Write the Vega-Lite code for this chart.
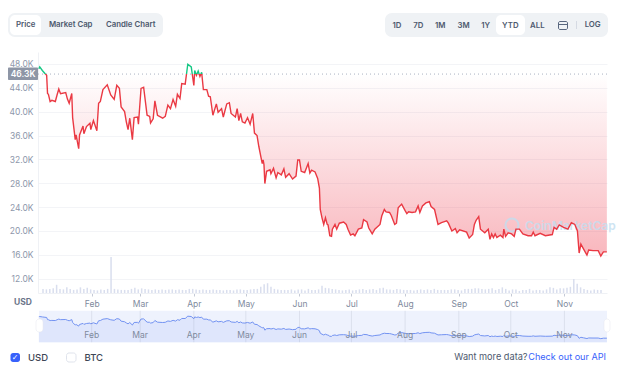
{"$schema":"https://vega.github.io/schema/vega-lite/v6.json","width":569,"height":241,"padding":{"left":38,"top":52,"right":17,"bottom":87},"autosize":{"type":"none"},"background":"white","config":{"font":"Inter","view":{"stroke":null},"text":{"baseline":"middle"}},
"data":{"values":[{"ui":1}]},
"datasets":{"p":[{"d":"2022-01-01T12:00Z","p":47200},{"d":"2022-01-02","p":47500},{"d":"2022-01-03T12:00Z","p":46900},{"d":"2022-01-05","p":46400},{"d":"2022-01-06","p":46100},{"d":"2022-01-06T12:00Z","p":43050},{"d":"2022-01-07","p":42900},{"d":"2022-01-08","p":41700},{"d":"2022-01-09","p":41900},{"d":"2022-01-11","p":41700},{"d":"2022-01-12","p":42800},{"d":"2022-01-13","p":43800},{"d":"2022-01-14","p":43000},{"d":"2022-01-17","p":43200},{"d":"2022-01-18","p":42100},{"d":"2022-01-19","p":41400},{"d":"2022-01-20T12:00Z","p":43050},{"d":"2022-01-21","p":39000},{"d":"2022-01-22T12:00Z","p":35300},{"d":"2022-01-23","p":36100},{"d":"2022-01-24T12:00Z","p":33800},{"d":"2022-01-25","p":36100},{"d":"2022-01-27","p":37600},{"d":"2022-01-27T12:00Z","p":36300},{"d":"2022-01-29","p":37500},{"d":"2022-01-31","p":38050},{"d":"2022-01-31T12:00Z","p":37000},{"d":"2022-02-02","p":38500},{"d":"2022-02-04","p":36800},{"d":"2022-02-05","p":41400},{"d":"2022-02-06","p":41700},{"d":"2022-02-07T12:00Z","p":43700},{"d":"2022-02-10","p":44500},{"d":"2022-02-12","p":42800},{"d":"2022-02-14","p":42050},{"d":"2022-02-15T12:00Z","p":44400},{"d":"2022-02-17","p":43900},{"d":"2022-02-18","p":40800},{"d":"2022-02-20","p":40000},{"d":"2022-02-21","p":38300},{"d":"2022-02-22","p":37000},{"d":"2022-02-23","p":38900},{"d":"2022-02-24T12:00Z","p":35300},{"d":"2022-02-25T12:00Z","p":39000},{"d":"2022-02-27T12:00Z","p":39100},{"d":"2022-02-28","p":37900},{"d":"2022-03-01T12:00Z","p":43900},{"d":"2022-03-03","p":44100},{"d":"2022-03-05","p":39400},{"d":"2022-03-06T12:00Z","p":39200},{"d":"2022-03-07","p":38100},{"d":"2022-03-08T12:00Z","p":38800},{"d":"2022-03-09T12:00Z","p":41800},{"d":"2022-03-11","p":39400},{"d":"2022-03-14","p":38900},{"d":"2022-03-15T12:00Z","p":39200},{"d":"2022-03-17","p":41100},{"d":"2022-03-18T12:00Z","p":40500},{"d":"2022-03-20","p":42050},{"d":"2022-03-21T12:00Z","p":40900},{"d":"2022-03-22T12:00Z","p":42900},{"d":"2022-03-24","p":42200},{"d":"2022-03-25","p":44700},{"d":"2022-03-27","p":44600},{"d":"2022-03-28T12:00Z","p":47950},{"d":"2022-03-30T12:00Z","p":47500},{"d":"2022-04-01","p":44400},{"d":"2022-04-01T12:00Z","p":46900},{"d":"2022-04-02T12:00Z","p":46100},{"d":"2022-04-03T12:00Z","p":46800},{"d":"2022-04-04T12:00Z","p":45900},{"d":"2022-04-05T12:00Z","p":46600},{"d":"2022-04-06T12:00Z","p":43700},{"d":"2022-04-08T12:00Z","p":43700},{"d":"2022-04-09T12:00Z","p":42600},{"d":"2022-04-10T12:00Z","p":42500},{"d":"2022-04-12","p":39400},{"d":"2022-04-14","p":41300},{"d":"2022-04-15","p":39900},{"d":"2022-04-17","p":40500},{"d":"2022-04-18","p":39100},{"d":"2022-04-20","p":41300},{"d":"2022-04-21T12:00Z","p":41500},{"d":"2022-04-22T12:00Z","p":39700},{"d":"2022-04-25","p":39100},{"d":"2022-04-26","p":40500},{"d":"2022-04-27","p":38500},{"d":"2022-04-28","p":39700},{"d":"2022-04-29","p":38300},{"d":"2022-04-30T12:00Z","p":38100},{"d":"2022-05-02","p":39000},{"d":"2022-05-03T12:00Z","p":37900},{"d":"2022-05-05","p":39700},{"d":"2022-05-06","p":36400},{"d":"2022-05-07T12:00Z","p":36000},{"d":"2022-05-08T12:00Z","p":34200},{"d":"2022-05-10","p":32000},{"d":"2022-05-10T12:00Z","p":31300},{"d":"2022-05-11","p":31900},{"d":"2022-05-11T12:00Z","p":31100},{"d":"2022-05-12","p":27950},{"d":"2022-05-13","p":30000},{"d":"2022-05-15","p":30250},{"d":"2022-05-15T12:00Z","p":29600},{"d":"2022-05-17","p":30500},{"d":"2022-05-18T12:00Z","p":28900},{"d":"2022-05-19T12:00Z","p":29800},{"d":"2022-05-21T12:00Z","p":29400},{"d":"2022-05-23","p":30400},{"d":"2022-05-24","p":29000},{"d":"2022-05-26","p":29600},{"d":"2022-05-28","p":28700},{"d":"2022-05-30","p":29200},{"d":"2022-05-31","p":31900},{"d":"2022-06-01","p":31900},{"d":"2022-06-02","p":30000},{"d":"2022-06-04","p":29800},{"d":"2022-06-06","p":31300},{"d":"2022-06-07","p":29700},{"d":"2022-06-08","p":30200},{"d":"2022-06-10","p":29900},{"d":"2022-06-11T12:00Z","p":28800},{"d":"2022-06-12T12:00Z","p":27200},{"d":"2022-06-13","p":23600},{"d":"2022-06-14","p":22200},{"d":"2022-06-15","p":21100},{"d":"2022-06-16","p":22200},{"d":"2022-06-17","p":21100},{"d":"2022-06-17T12:00Z","p":21000},{"d":"2022-06-18T12:00Z","p":19200},{"d":"2022-06-19T12:00Z","p":19100},{"d":"2022-06-20","p":20300},{"d":"2022-06-21T12:00Z","p":21100},{"d":"2022-06-22T12:00Z","p":20300},{"d":"2022-06-24","p":21300},{"d":"2022-06-26T12:00Z","p":21500},{"d":"2022-06-28","p":21100},{"d":"2022-06-29","p":20300},{"d":"2022-06-30T12:00Z","p":19300},{"d":"2022-07-02","p":19500},{"d":"2022-07-03","p":19200},{"d":"2022-07-05","p":20300},{"d":"2022-07-07","p":20500},{"d":"2022-07-08","p":21900},{"d":"2022-07-10","p":21500},{"d":"2022-07-11","p":20500},{"d":"2022-07-13","p":19500},{"d":"2022-07-14T12:00Z","p":20300},{"d":"2022-07-17T12:00Z","p":21100},{"d":"2022-07-18T12:00Z","p":22500},{"d":"2022-07-20","p":23600},{"d":"2022-07-21","p":23200},{"d":"2022-07-23","p":23100},{"d":"2022-07-24","p":22600},{"d":"2022-07-26","p":21100},{"d":"2022-07-27","p":21300},{"d":"2022-07-28","p":23900},{"d":"2022-07-30","p":24500},{"d":"2022-08-01","p":23400},{"d":"2022-08-02","p":22900},{"d":"2022-08-03","p":23200},{"d":"2022-08-05","p":23100},{"d":"2022-08-07","p":23200},{"d":"2022-08-08T12:00Z","p":24200},{"d":"2022-08-09T12:00Z","p":23100},{"d":"2022-08-11","p":24200},{"d":"2022-08-13","p":24700},{"d":"2022-08-15","p":24900},{"d":"2022-08-16","p":24100},{"d":"2022-08-18","p":23600},{"d":"2022-08-20","p":21100},{"d":"2022-08-22","p":21400},{"d":"2022-08-25","p":21700},{"d":"2022-08-26","p":21300},{"d":"2022-08-28","p":20000},{"d":"2022-08-30","p":20400},{"d":"2022-08-31","p":19700},{"d":"2022-09-01T12:00Z","p":20200},{"d":"2022-09-05T12:00Z","p":19800},{"d":"2022-09-07","p":18800},{"d":"2022-09-09","p":19400},{"d":"2022-09-10","p":21100},{"d":"2022-09-11","p":21800},{"d":"2022-09-12T12:00Z","p":22400},{"d":"2022-09-13T12:00Z","p":20300},{"d":"2022-09-16","p":19700},{"d":"2022-09-18","p":20300},{"d":"2022-09-19","p":18600},{"d":"2022-09-20","p":19500},{"d":"2022-09-21","p":18900},{"d":"2022-09-22","p":19500},{"d":"2022-09-23","p":18900},{"d":"2022-09-25","p":19300},{"d":"2022-09-26T12:00Z","p":18900},{"d":"2022-09-27","p":20300},{"d":"2022-09-28","p":19100},{"d":"2022-09-29T12:00Z","p":19700},{"d":"2022-10-01T12:00Z","p":19500},{"d":"2022-10-03","p":19100},{"d":"2022-10-04","p":20300},{"d":"2022-10-06","p":20300},{"d":"2022-10-08","p":19500},{"d":"2022-10-11","p":19200},{"d":"2022-10-13","p":19200},{"d":"2022-10-14","p":19800},{"d":"2022-10-15","p":19200},{"d":"2022-10-18","p":19600},{"d":"2022-10-21","p":19200},{"d":"2022-10-25","p":19400},{"d":"2022-10-26","p":20600},{"d":"2022-10-27T12:00Z","p":20300},{"d":"2022-10-29","p":21000},{"d":"2022-10-31T12:00Z","p":20600},{"d":"2022-11-03","p":20300},{"d":"2022-11-05","p":21400},{"d":"2022-11-07","p":21100},{"d":"2022-11-08T12:00Z","p":20000},{"d":"2022-11-09T12:00Z","p":16300},{"d":"2022-11-10T12:00Z","p":17800},{"d":"2022-11-12","p":17000},{"d":"2022-11-14","p":15950},{"d":"2022-11-15","p":16800},{"d":"2022-11-17T12:00Z","p":16700},{"d":"2022-11-20T12:00Z","p":16700},{"d":"2022-11-22","p":15800},{"d":"2022-11-23T12:00Z","p":16500},{"d":"2022-11-25T12:00Z","p":16500}],
"v":[{"d":"2022-01-01","v":40},{"d":"2022-01-03","v":35},{"d":"2022-01-05","v":40},{"d":"2022-01-07","v":45},{"d":"2022-01-09","v":80},{"d":"2022-01-11","v":40},{"d":"2022-01-13","v":35},{"d":"2022-01-15","v":55},{"d":"2022-01-17","v":40},{"d":"2022-01-19","v":30},{"d":"2022-01-21","v":35},{"d":"2022-01-23","v":55},{"d":"2022-01-25","v":40},{"d":"2022-01-27","v":50},{"d":"2022-01-29","v":35},{"d":"2022-01-31","v":30},{"d":"2022-02-02","v":25},{"d":"2022-02-04","v":35},{"d":"2022-02-06","v":30},{"d":"2022-02-08","v":40},{"d":"2022-02-10","v":350},{"d":"2022-02-12","v":40},{"d":"2022-02-14","v":35},{"d":"2022-02-16","v":30},{"d":"2022-02-18","v":30},{"d":"2022-02-20","v":30},{"d":"2022-02-22","v":40},{"d":"2022-02-24","v":50},{"d":"2022-02-26","v":35},{"d":"2022-02-28","v":45},{"d":"2022-03-02","v":40},{"d":"2022-03-04","v":35},{"d":"2022-03-06","v":30},{"d":"2022-03-08","v":35},{"d":"2022-03-10","v":30},{"d":"2022-03-12","v":35},{"d":"2022-03-14","v":30},{"d":"2022-03-16","v":35},{"d":"2022-03-18","v":35},{"d":"2022-03-20","v":30},{"d":"2022-03-22","v":35},{"d":"2022-03-24","v":30},{"d":"2022-03-26","v":30},{"d":"2022-03-28","v":40},{"d":"2022-03-30","v":40},{"d":"2022-04-01","v":35},{"d":"2022-04-03","v":30},{"d":"2022-04-05","v":35},{"d":"2022-04-07","v":30},{"d":"2022-04-09","v":30},{"d":"2022-04-11","v":35},{"d":"2022-04-13","v":30},{"d":"2022-04-15","v":30},{"d":"2022-04-17","v":25},{"d":"2022-04-19","v":30},{"d":"2022-04-21","v":30},{"d":"2022-04-23","v":25},{"d":"2022-04-25","v":35},{"d":"2022-04-27","v":35},{"d":"2022-04-29","v":30},{"d":"2022-05-01","v":30},{"d":"2022-05-03","v":35},{"d":"2022-05-05","v":40},{"d":"2022-05-07","v":40},{"d":"2022-05-09","v":60},{"d":"2022-05-11","v":85},{"d":"2022-05-13","v":95},{"d":"2022-05-15","v":60},{"d":"2022-05-17","v":40},{"d":"2022-05-19","v":35},{"d":"2022-05-21","v":30},{"d":"2022-05-23","v":30},{"d":"2022-05-25","v":30},{"d":"2022-05-27","v":35},{"d":"2022-05-29","v":25},{"d":"2022-05-31","v":35},{"d":"2022-06-02","v":35},{"d":"2022-06-04","v":25},{"d":"2022-06-06","v":40},{"d":"2022-06-08","v":30},{"d":"2022-06-10","v":30},{"d":"2022-06-12","v":35},{"d":"2022-06-14","v":70},{"d":"2022-06-16","v":50},{"d":"2022-06-18","v":45},{"d":"2022-06-20","v":40},{"d":"2022-06-22","v":35},{"d":"2022-06-24","v":30},{"d":"2022-06-26","v":25},{"d":"2022-06-28","v":30},{"d":"2022-06-30","v":35},{"d":"2022-07-02","v":25},{"d":"2022-07-04","v":30},{"d":"2022-07-06","v":35},{"d":"2022-07-08","v":40},{"d":"2022-07-10","v":30},{"d":"2022-07-12","v":35},{"d":"2022-07-14","v":40},{"d":"2022-07-16","v":30},{"d":"2022-07-18","v":45},{"d":"2022-07-20","v":50},{"d":"2022-07-22","v":35},{"d":"2022-07-24","v":35},{"d":"2022-07-26","v":30},{"d":"2022-07-28","v":40},{"d":"2022-07-30","v":35},{"d":"2022-08-01","v":30},{"d":"2022-08-03","v":30},{"d":"2022-08-05","v":30},{"d":"2022-08-07","v":25},{"d":"2022-08-09","v":30},{"d":"2022-08-11","v":35},{"d":"2022-08-13","v":30},{"d":"2022-08-15","v":35},{"d":"2022-08-17","v":30},{"d":"2022-08-19","v":40},{"d":"2022-08-21","v":30},{"d":"2022-08-23","v":30},{"d":"2022-08-25","v":30},{"d":"2022-08-27","v":30},{"d":"2022-08-29","v":35},{"d":"2022-08-31","v":35},{"d":"2022-09-02","v":30},{"d":"2022-09-04","v":25},{"d":"2022-09-06","v":40},{"d":"2022-09-08","v":40},{"d":"2022-09-10","v":40},{"d":"2022-09-12","v":45},{"d":"2022-09-14","v":45},{"d":"2022-09-16","v":40},{"d":"2022-09-18","v":35},{"d":"2022-09-20","v":40},{"d":"2022-09-22","v":45},{"d":"2022-09-24","v":30},{"d":"2022-09-26","v":40},{"d":"2022-09-28","v":55},{"d":"2022-09-30","v":40},{"d":"2022-10-02","v":25},{"d":"2022-10-04","v":35},{"d":"2022-10-06","v":35},{"d":"2022-10-08","v":20},{"d":"2022-10-10","v":30},{"d":"2022-10-12","v":30},{"d":"2022-10-14","v":40},{"d":"2022-10-16","v":25},{"d":"2022-10-18","v":30},{"d":"2022-10-20","v":30},{"d":"2022-10-22","v":25},{"d":"2022-10-24","v":35},{"d":"2022-10-26","v":55},{"d":"2022-10-28","v":50},{"d":"2022-10-30","v":35},{"d":"2022-11-01","v":45},{"d":"2022-11-03","v":45},{"d":"2022-11-05","v":50},{"d":"2022-11-07","v":60},{"d":"2022-11-09","v":135},{"d":"2022-11-11","v":90},{"d":"2022-11-13","v":55},{"d":"2022-11-15","v":40},{"d":"2022-11-17","v":30},{"d":"2022-11-19","v":25},{"d":"2022-11-21","v":35},{"d":"2022-11-23","v":30},{"d":"2022-11-25","v":30}],
"m":[{"d":"2022-02-01","l":"Feb"},{"d":"2022-03-01","l":"Mar"},{"d":"2022-04-01","l":"Apr"},{"d":"2022-05-01","l":"May"},{"d":"2022-06-01","l":"Jun"},{"d":"2022-07-01","l":"Jul"},{"d":"2022-08-01","l":"Aug"},{"d":"2022-09-01","l":"Sep"},{"d":"2022-10-01","l":"Oct"},{"d":"2022-11-01","l":"Nov"}]},
"resolve":{"scale":{"x":"independent","y":"independent"},"axis":{"x":"independent","y":"independent"}},
"layer":[
{"data":{"name":"p"},"mark":{"type":"rule","opacity":0},"encoding":{"y":{"field":"p","type":"quantitative","scale":{"domain":[9600,50000],"range":[241,0]},"axis":{"values":[12000,16000,20000,24000,28000,32000,36000,40000,44000,48000],"labelExpr":"format(datum.value/1000,'.1f')+'K'","title":null,"grid":true,"gridColor":"#f3f4f7","ticks":false,"domainColor":"#eff1f5","labelColor":"#8e97ab","labelFontSize":8.5,"labelPadding":5}}}},
{"data":{"name":"p"},"mark":{"type":"area","fill":{"gradient":"linear","x1":0,"y1":0,"x2":0,"y2":1,"stops":[{"offset":0,"color":"rgba(239,74,91,0)"},{"offset":0.051,"color":"rgba(239,74,91,0)"},{"offset":1,"color":"rgba(239,74,91,0.4)"}]}},"encoding":{"x":{"field":"d","type":"temporal","axis":null,"scale":{"type":"utc","domain":["2022-01-01","2022-11-25T14:00:00Z"],"range":[0,569]}},"y":{"field":"p","type":"quantitative","axis":null,"scale":{"domain":[9600,50000],"range":[241,0]}},"y2":{"datum":46300}}},
{"mark":{"type":"rule","color":"#aab2c2","strokeDash":[1,3],"strokeWidth":1},"encoding":{"y":{"datum":46300,"type":"quantitative","axis":null,"scale":{"domain":[9600,50000],"range":[241,0]}}}},
{"mark":{"type":"point","filled":false,"stroke":"#c3def0","strokeWidth":2,"opacity":0.8,"size":170},"encoding":{"x":{"datum":512,"type":"quantitative","axis":null,"scale":{"domain":[0,624],"range":[-38,586]}},"y":{"datum":225,"type":"quantitative","axis":null,"scale":{"domain":[0,380],"range":[-52,328]}}}},
{"mark":{"type":"text","align":"left","fontSize":12,"fontWeight":600,"color":"#c3def0","opacity":0.8},"encoding":{"x":{"datum":525,"type":"quantitative","axis":null,"scale":{"domain":[0,624],"range":[-38,586]}},"y":{"datum":226,"type":"quantitative","axis":null,"scale":{"domain":[0,380],"range":[-52,328]}},"text":{"value":"CoinMarketCap"}}},
{"data":{"name":"v"},"mark":{"type":"bar","size":1.5,"color":"#d9deee"},"encoding":{"x":{"field":"d","type":"temporal","axis":null,"scale":{"type":"utc","domain":["2022-01-01","2022-11-25T14:00:00Z"],"range":[0,569]}},"y":{"field":"v","type":"quantitative","axis":null,"scale":{"domain":[0,350],"range":[241,205]}}}},
{"data":{"name":"p"},"mark":{"type":"line","strokeWidth":1.4,"stroke":{"gradient":"linear","x1":0,"y1":0,"x2":0,"y2":1,"stops":[{"offset":0,"color":"#16c784"},{"offset":0.051,"color":"#16c784"},{"offset":0.051,"color":"#ea3943"},{"offset":1,"color":"#ea3943"}]}},"encoding":{"x":{"field":"d","type":"temporal","scale":{"type":"utc","domain":["2022-01-01","2022-11-25T14:00:00Z"],"range":[0,569]},"axis":{"values":[{"year":2022,"month":2,"date":1,"utc":true},{"year":2022,"month":3,"date":1,"utc":true},{"year":2022,"month":4,"date":1,"utc":true},{"year":2022,"month":5,"date":1,"utc":true},{"year":2022,"month":6,"date":1,"utc":true},{"year":2022,"month":7,"date":1,"utc":true},{"year":2022,"month":8,"date":1,"utc":true},{"year":2022,"month":9,"date":1,"utc":true},{"year":2022,"month":10,"date":1,"utc":true},{"year":2022,"month":11,"date":1,"utc":true}],"format":"%b","title":null,"grid":false,"tickSize":3,"tickColor":"#c5cad6","domainColor":"#eff1f5","labelColor":"#808a9d","labelFontSize":8.5,"labelPadding":3}},"y":{"field":"p","type":"quantitative","axis":null,"scale":{"domain":[9600,50000],"range":[241,0]}}}},
{"mark":{"type":"rect","color":"#eef2fd"},"encoding":{"x":{"datum":39,"type":"quantitative","axis":null,"scale":{"domain":[0,624],"range":[-38,586]}},"x2":{"datum":607},"y":{"datum":310.7,"type":"quantitative","axis":null,"scale":{"domain":[0,380],"range":[-52,328]}},"y2":{"datum":342.3}}},
{"data":{"name":"p"},"mark":{"type":"area","color":"#d9e1fb","line":{"color":"#7393f2","strokeWidth":1}},"encoding":{"x":{"field":"d","type":"temporal","axis":null,"scale":{"type":"utc","domain":["2022-01-01","2022-11-25T14:00:00Z"],"range":[0,569]}},"y":{"field":"p","type":"quantitative","axis":null,"scale":{"domain":[10600,55800],"range":[290.3,258.7]}},"y2":{"datum":10600}}},
{"data":{"name":"m"},"mark":{"type":"rule","color":"#58667e","opacity":0.12},"encoding":{"x":{"field":"d","type":"temporal","axis":null,"scale":{"type":"utc","domain":["2022-01-01","2022-11-25T14:00:00Z"],"range":[0,569]}},"y":{"datum":10600,"type":"quantitative","axis":null,"scale":{"domain":[10600,55800],"range":[290.3,258.7]}},"y2":{"datum":55800}}},
{"data":{"name":"m"},"mark":{"type":"text","color":"#808a9d","fontSize":8.5},"encoding":{"x":{"field":"d","type":"temporal","axis":null,"scale":{"type":"utc","domain":["2022-01-01","2022-11-25T14:00:00Z"],"range":[0,569]}},"y":{"datum":21000,"type":"quantitative","axis":null,"scale":{"domain":[10600,55800],"range":[290.3,258.7]}},"text":{"field":"l"}}},
{"mark":{"type":"rect","color":"white","stroke":"#e4e7ee","strokeWidth":0.5,"cornerRadius":3},"encoding":{"x":{"datum":36,"type":"quantitative","axis":null,"scale":{"domain":[0,624],"range":[-38,586]}},"x2":{"datum":43},"y":{"datum":319,"type":"quantitative","axis":null,"scale":{"domain":[0,380],"range":[-52,328]}},"y2":{"datum":332}}},
{"mark":{"type":"rect","color":"white","stroke":"#e4e7ee","strokeWidth":0.5,"cornerRadius":3},"encoding":{"x":{"datum":604,"type":"quantitative","axis":null,"scale":{"domain":[0,624],"range":[-38,586]}},"x2":{"datum":610},"y":{"datum":319,"type":"quantitative","axis":null,"scale":{"domain":[0,380],"range":[-52,328]}},"y2":{"datum":332}}},
{"mark":{"type":"rect","color":"#8e96a6","cornerRadius":1},"encoding":{"x":{"datum":8,"type":"quantitative","axis":null,"scale":{"domain":[0,624],"range":[-38,586]}},"x2":{"datum":38},"y":{"datum":67.5,"type":"quantitative","axis":null,"scale":{"domain":[0,380],"range":[-52,328]}},"y2":{"datum":80}}},
{"mark":{"type":"text","color":"white","fontSize":8.5,"fontWeight":600},"encoding":{"x":{"datum":23,"type":"quantitative","axis":null,"scale":{"domain":[0,624],"range":[-38,586]}},"y":{"datum":74,"type":"quantitative","axis":null,"scale":{"domain":[0,380],"range":[-52,328]}},"text":{"value":"46.3K"}}},
{"mark":{"type":"text","color":"#6b7589","fontSize":8.5,"fontWeight":700},"encoding":{"x":{"datum":23,"type":"quantitative","axis":null,"scale":{"domain":[0,624],"range":[-38,586]}},"y":{"datum":302,"type":"quantitative","axis":null,"scale":{"domain":[0,380],"range":[-52,328]}},"text":{"value":"USD"}}},
{"mark":{"type":"rect","color":"#eff2f5","cornerRadius":7},"encoding":{"x":{"datum":8,"type":"quantitative","axis":null,"scale":{"domain":[0,624],"range":[-38,586]}},"x2":{"datum":163},"y":{"datum":13,"type":"quantitative","axis":null,"scale":{"domain":[0,380],"range":[-52,328]}},"y2":{"datum":37}}},
{"mark":{"type":"rect","color":"white","cornerRadius":5},"encoding":{"x":{"datum":10,"type":"quantitative","axis":null,"scale":{"domain":[0,624],"range":[-38,586]}},"x2":{"datum":41},"y":{"datum":15,"type":"quantitative","axis":null,"scale":{"domain":[0,380],"range":[-52,328]}},"y2":{"datum":35}}},
{"mark":{"type":"rect","color":"#eff2f5","cornerRadius":7},"encoding":{"x":{"datum":385,"type":"quantitative","axis":null,"scale":{"domain":[0,624],"range":[-38,586]}},"x2":{"datum":608},"y":{"datum":13,"type":"quantitative","axis":null,"scale":{"domain":[0,380],"range":[-52,328]}},"y2":{"datum":37}}},
{"mark":{"type":"rect","color":"white","cornerRadius":5},"encoding":{"x":{"datum":496,"type":"quantitative","axis":null,"scale":{"domain":[0,624],"range":[-38,586]}},"x2":{"datum":525},"y":{"datum":15,"type":"quantitative","axis":null,"scale":{"domain":[0,380],"range":[-52,328]}},"y2":{"datum":35}}},
{"mark":{"type":"rect","fillOpacity":0,"stroke":"#58667e","strokeWidth":1,"cornerRadius":1.5},"encoding":{"x":{"datum":558.5,"type":"quantitative","axis":null,"scale":{"domain":[0,624],"range":[-38,586]}},"x2":{"datum":567.5},"y":{"datum":21.5,"type":"quantitative","axis":null,"scale":{"domain":[0,380],"range":[-52,328]}},"y2":{"datum":29.5}}},
{"mark":{"type":"rule","color":"#58667e","strokeWidth":1},"encoding":{"x":{"datum":558.5,"type":"quantitative","axis":null,"scale":{"domain":[0,624],"range":[-38,586]}},"x2":{"datum":567.5},"y":{"datum":24.5,"type":"quantitative","axis":null,"scale":{"domain":[0,380],"range":[-52,328]}}}},
{"mark":{"type":"rule","color":"#d5dae3","strokeWidth":1},"encoding":{"x":{"datum":576.5,"type":"quantitative","axis":null,"scale":{"domain":[0,624],"range":[-38,586]}},"y":{"datum":21,"type":"quantitative","axis":null,"scale":{"domain":[0,380],"range":[-52,328]}},"y2":{"datum":29}}},
{"mark":{"type":"text","color":"#4d596e","fontSize":7.8,"fontWeight":600},"encoding":{"x":{"datum":25.7,"type":"quantitative","axis":null,"scale":{"domain":[0,624],"range":[-38,586]}},"y":{"datum":25,"type":"quantitative","axis":null,"scale":{"domain":[0,380],"range":[-52,328]}},"text":{"value":"Price"}}},
{"mark":{"type":"text","color":"#4d596e","fontSize":7.8,"fontWeight":600},"encoding":{"x":{"datum":70.7,"type":"quantitative","axis":null,"scale":{"domain":[0,624],"range":[-38,586]}},"y":{"datum":25,"type":"quantitative","axis":null,"scale":{"domain":[0,380],"range":[-52,328]}},"text":{"value":"Market Cap"}}},
{"mark":{"type":"text","color":"#4d596e","fontSize":7.8,"fontWeight":600},"encoding":{"x":{"datum":130.7,"type":"quantitative","axis":null,"scale":{"domain":[0,624],"range":[-38,586]}},"y":{"datum":25,"type":"quantitative","axis":null,"scale":{"domain":[0,380],"range":[-52,328]}},"text":{"value":"Candle Chart"}}},
{"mark":{"type":"text","color":"#4d596e","fontSize":7.8,"fontWeight":600},"encoding":{"x":{"datum":397,"type":"quantitative","axis":null,"scale":{"domain":[0,624],"range":[-38,586]}},"y":{"datum":25.5,"type":"quantitative","axis":null,"scale":{"domain":[0,380],"range":[-52,328]}},"text":{"value":"1D"}}},
{"mark":{"type":"text","color":"#4d596e","fontSize":7.8,"fontWeight":600},"encoding":{"x":{"datum":418.3,"type":"quantitative","axis":null,"scale":{"domain":[0,624],"range":[-38,586]}},"y":{"datum":25.5,"type":"quantitative","axis":null,"scale":{"domain":[0,380],"range":[-52,328]}},"text":{"value":"7D"}}},
{"mark":{"type":"text","color":"#4d596e","fontSize":7.8,"fontWeight":600},"encoding":{"x":{"datum":440.3,"type":"quantitative","axis":null,"scale":{"domain":[0,624],"range":[-38,586]}},"y":{"datum":25.5,"type":"quantitative","axis":null,"scale":{"domain":[0,380],"range":[-52,328]}},"text":{"value":"1M"}}},
{"mark":{"type":"text","color":"#4d596e","fontSize":7.8,"fontWeight":600},"encoding":{"x":{"datum":463.7,"type":"quantitative","axis":null,"scale":{"domain":[0,624],"range":[-38,586]}},"y":{"datum":25.5,"type":"quantitative","axis":null,"scale":{"domain":[0,380],"range":[-52,328]}},"text":{"value":"3M"}}},
{"mark":{"type":"text","color":"#4d596e","fontSize":7.8,"fontWeight":600},"encoding":{"x":{"datum":485.7,"type":"quantitative","axis":null,"scale":{"domain":[0,624],"range":[-38,586]}},"y":{"datum":25.5,"type":"quantitative","axis":null,"scale":{"domain":[0,380],"range":[-52,328]}},"text":{"value":"1Y"}}},
{"mark":{"type":"text","color":"#4d596e","fontSize":7.8,"fontWeight":600},"encoding":{"x":{"datum":510.3,"type":"quantitative","axis":null,"scale":{"domain":[0,624],"range":[-38,586]}},"y":{"datum":25.5,"type":"quantitative","axis":null,"scale":{"domain":[0,380],"range":[-52,328]}},"text":{"value":"YTD"}}},
{"mark":{"type":"text","color":"#4d596e","fontSize":7.8,"fontWeight":600},"encoding":{"x":{"datum":537.3,"type":"quantitative","axis":null,"scale":{"domain":[0,624],"range":[-38,586]}},"y":{"datum":25.5,"type":"quantitative","axis":null,"scale":{"domain":[0,380],"range":[-52,328]}},"text":{"value":"ALL"}}},
{"mark":{"type":"text","color":"#4d596e","fontSize":7.8,"fontWeight":600},"encoding":{"x":{"datum":592.7,"type":"quantitative","axis":null,"scale":{"domain":[0,624],"range":[-38,586]}},"y":{"datum":25,"type":"quantitative","axis":null,"scale":{"domain":[0,380],"range":[-52,328]}},"text":{"value":"LOG"}}},
{"mark":{"type":"rect","color":"#3861fb","cornerRadius":2.5},"encoding":{"x":{"datum":10.5,"type":"quantitative","axis":null,"scale":{"domain":[0,624],"range":[-38,586]}},"x2":{"datum":20},"y":{"datum":353,"type":"quantitative","axis":null,"scale":{"domain":[0,380],"range":[-52,328]}},"y2":{"datum":362}}},
{"mark":{"type":"text","color":"white","fontSize":8,"font":"DejaVu Sans"},"encoding":{"x":{"datum":15.2,"type":"quantitative","axis":null,"scale":{"domain":[0,624],"range":[-38,586]}},"y":{"datum":357.5,"type":"quantitative","axis":null,"scale":{"domain":[0,380],"range":[-52,328]}},"text":{"value":"✓"}}},
{"mark":{"type":"rect","color":"white","stroke":"#dfe3ec","strokeWidth":1,"cornerRadius":2.5},"encoding":{"x":{"datum":66.5,"type":"quantitative","axis":null,"scale":{"domain":[0,624],"range":[-38,586]}},"x2":{"datum":76},"y":{"datum":353,"type":"quantitative","axis":null,"scale":{"domain":[0,380],"range":[-52,328]}},"y2":{"datum":362}}},
{"mark":{"type":"text","color":"#3d4656","fontSize":9.5,"fontWeight":500,"align":"left"},"encoding":{"x":{"datum":28,"type":"quantitative","axis":null,"scale":{"domain":[0,624],"range":[-38,586]}},"y":{"datum":357.5,"type":"quantitative","axis":null,"scale":{"domain":[0,380],"range":[-52,328]}},"text":{"value":"USD"}}},
{"mark":{"type":"text","color":"#3d4656","fontSize":9.5,"fontWeight":500,"align":"left"},"encoding":{"x":{"datum":84.5,"type":"quantitative","axis":null,"scale":{"domain":[0,624],"range":[-38,586]}},"y":{"datum":357.5,"type":"quantitative","axis":null,"scale":{"domain":[0,380],"range":[-52,328]}},"text":{"value":"BTC"}}},
{"mark":{"type":"text","color":"#4d596e","fontSize":9.2,"align":"left"},"encoding":{"x":{"datum":454.3,"type":"quantitative","axis":null,"scale":{"domain":[0,624],"range":[-38,586]}},"y":{"datum":357,"type":"quantitative","axis":null,"scale":{"domain":[0,380],"range":[-52,328]}},"text":{"value":"Want more data?"}}},
{"mark":{"type":"text","color":"#3861fb","fontSize":9.1,"align":"right"},"encoding":{"x":{"datum":606,"type":"quantitative","axis":null,"scale":{"domain":[0,624],"range":[-38,586]}},"y":{"datum":357,"type":"quantitative","axis":null,"scale":{"domain":[0,380],"range":[-52,328]}},"text":{"value":"Check out our API"}}}
]}
